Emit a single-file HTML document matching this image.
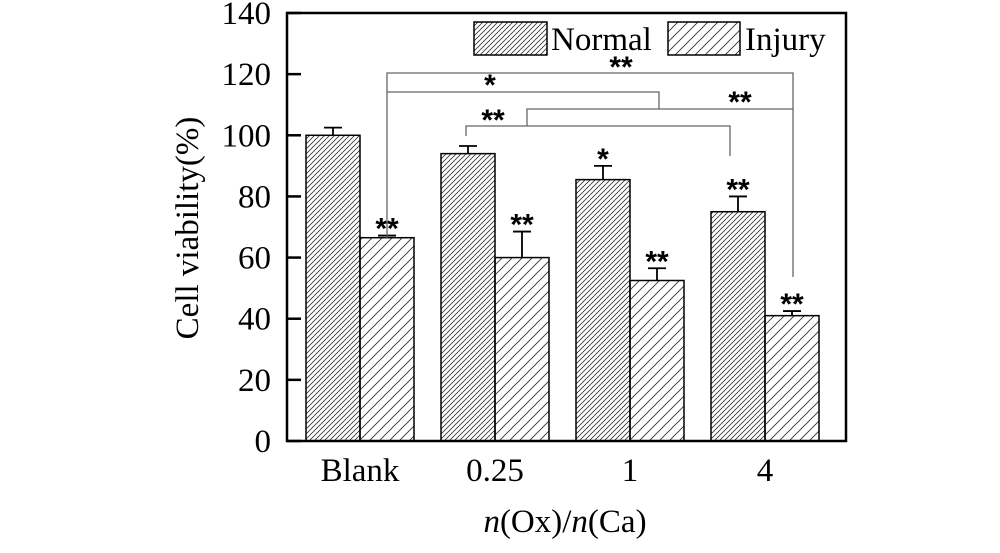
<!DOCTYPE html>
<html><head><meta charset="utf-8"><style>
html,body{margin:0;padding:0;background:#fff;}
svg{display:block;font-family:"Liberation Serif",serif;}
</style></head><body>
<svg id="chart" width="1000" height="553" viewBox="0 0 1000 553">
<defs>
<pattern id="hatchDense" patternUnits="userSpaceOnUse" width="5" height="5">
<path d="M-1,1 l2,-2 M0,5 l5,-5 M4,6 l2,-2" stroke="#333" stroke-width="0.8"/>
</pattern>
<pattern id="hatchSparse" patternUnits="userSpaceOnUse" width="10" height="10">
<path d="M-1,1 l2,-2 M0,10 l10,-10 M9,11 l2,-2" stroke="#333" stroke-width="0.9"/>
</pattern>
</defs>
<g id="bars"></g>
<g id="axes"></g>
<g id="sig"></g>
<g id="legend">
<rect x="474" y="22" width="73" height="33" fill="url(#hatchDense)" stroke="#000" stroke-width="1.5"/>
<text x="551" y="50" font-size="33">Normal</text>
<rect x="668" y="22" width="72" height="33" fill="url(#hatchSparse)" stroke="#000" stroke-width="1.5"/>
<text x="745" y="50" font-size="33">Injury</text>
</g>
<text transform="translate(198,228) rotate(-90)" text-anchor="middle" font-size="33">Cell viability(%)</text>
<text x="565" y="532" text-anchor="middle" font-size="33"><tspan font-style="italic">n</tspan>(Ox)/<tspan font-style="italic">n</tspan>(Ca)</text>
</svg>
<script>
const categories = ["Blank", "0.25", "1", "4"];
const normalValues = [100, 94, 85.5, 75];
const normalErrors = [2.5, 2.5, 4.5, 5];
const injuryValues = [66.5, 60, 52.5, 41];
const injuryErrors = [0.7, 8.5, 4, 1.5];
const normalMarks = ["", "", "*", "**"];
const injuryMarks = ["**", "**", "**", "**"];
const yTicks = [0, 20, 40, 60, 80, 100, 120, 140];

const NS = "http://www.w3.org/2000/svg";
const X0 = 287, X1 = 846, Y0 = 441, Y1 = 13;
const yMax = 140;
function y(v){ return Y0 - v/yMax*(Y0-Y1); }
function groupX(i){ return 306 + i*135; }
const BW = 54;
function mk(tag, attrs, parent){ const e=document.createElementNS(NS,tag); for(const k in attrs) e.setAttribute(k,attrs[k]); parent.appendChild(e); return e; }

const bars = document.getElementById('bars');
const axes = document.getElementById('axes');
const sig = document.getElementById('sig');

categories.forEach((c,i)=>{
  const series = [[normalValues,normalErrors,normalMarks,'url(#hatchDense)','normal'],[injuryValues,injuryErrors,injuryMarks,'url(#hatchSparse)','injury']];
  series.forEach((s,j)=>{
    const v=s[0][i], e=s[1][i];
    const x=groupX(i)+j*BW, cx=x+BW/2;
    const r=mk('rect',{x:x,y:y(v),width:BW,height:Y0-y(v),fill:s[3],stroke:'#000','stroke-width':1.5},bars);
    
    
    const eb=mk('path',{d:`M${cx},${y(v)} V${y(v+e)} M${cx-9},${y(v+e)} H${cx+9}`,stroke:'#000','stroke-width':1.8,fill:'none'},bars);
    
    
    if(s[2][i]){
      const t=mk('text',{x:cx,y:y(v+e)+3,'text-anchor':'middle','font-size':30,'font-weight':'bold','font-family':'Liberation Sans, sans-serif'},bars);
      t.textContent=s[2][i];
      
      
    }
  });
  const lt=mk('text',{x:groupX(i)+BW,y:481,'text-anchor':'middle','font-size':33},axes);
  lt.textContent=c;
  
  
});

const frame=mk('rect',{x:X0,y:Y1,width:X1-X0,height:Y0-Y1,fill:'none',stroke:'#000','stroke-width':2.5},axes);


yTicks.forEach(t=>{
  const yy=y(t);
  const tk=mk('line',{x1:X0,x2:X0+14,y1:yy,y2:yy,stroke:'#000','stroke-width':2.5},axes);
  
  
  const tl=mk('text',{x:271,y:yy+11,'text-anchor':'end','font-size':33},axes);
  tl.textContent=t;
  
  
});

const paths = [
  "M387,238 V73 H793 V277",
  "M387,92 H659 V109",
  "M527,126 V109 H793",
  "M466,136 V126 H730 V156"
];
paths.forEach(d=>{
  const p=mk('path',{d:d,stroke:'#666','stroke-width':1.3,fill:'none'},sig);
  
  
});
[["**",621,77],["*",490,95],["**",740,112],["**",493,130]].forEach(a=>{
  const t=mk('text',{x:a[1],y:a[2],'text-anchor':'middle','font-size':30,'font-weight':'bold','font-family':'Liberation Sans, sans-serif'},sig);
  t.textContent=a[0];
  
  
});
</script>
</body></html>
